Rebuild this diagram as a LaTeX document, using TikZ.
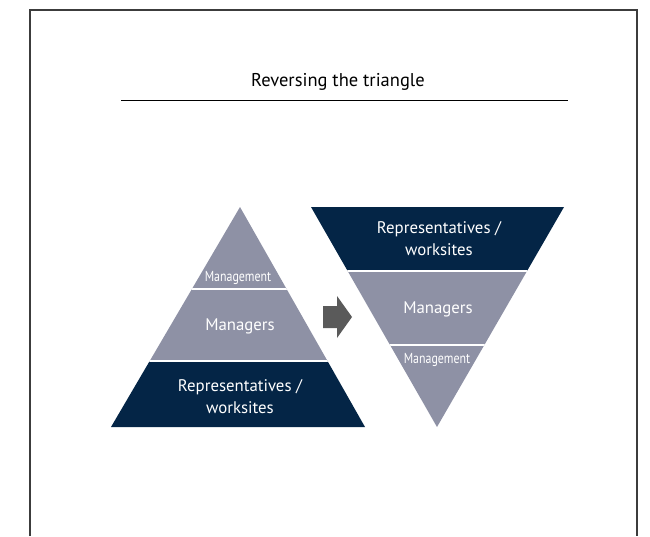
\documentclass[tikz,border=0pt]{standalone}
\usepackage{fontspec}
\setmainfont{PT Sans}
\begin{document}
\definecolor{navy}{RGB}{4,37,70}
\definecolor{slate}{RGB}{142,145,165}
\definecolor{arrowgray}{RGB}{90,90,90}
\definecolor{framegray}{RGB}{60,60,60}
\begin{tikzpicture}[x=1pt,y=-1pt,
  lbl/.style={text=white,font=\fontsize{16.8}{22}\selectfont,align=center,inner sep=0pt},
  smalllbl/.style={text=white,font=\fontsize{14.5}{16}\selectfont,xscale=0.82,inner sep=0pt},
  gap/.style={white,line width=2.2pt}]
\useasboundingbox (0,0) rectangle (650,536);
% page frame, open at the bottom
\draw[framegray,line width=1.2pt] (30,536) -- (30,10) -- (637,10) -- (637,536);
% heading
\node[font=\fontsize{18.5}{22}\selectfont,inner sep=0pt] (title) at (338,82) {Reversing the triangle};
\draw[line width=0.8pt] (121,100) -- (568,100);

% upright pyramid
\begin{scope}
  \clip (240,207) -- (365,427) -- (111,427) -- cycle;
  \fill[slate] (100,200) rectangle (380,361);
  \fill[navy] (100,361) rectangle (380,440);
  \draw[gap] (100,289) -- (380,289);
  \draw[gap] (100,361) -- (380,361);
\end{scope}
\node[smalllbl] (lmgmt) at (238,278) {Management};
\node[lbl] (lmgr) at (240,326) {Managers};
\node[lbl] (lrep) at (240,397) {Representatives /\\worksites};

% block arrow between the two
\fill[arrowgray] (323,306) -- (337,306) -- (337,296) -- (352,317) -- (337,338) -- (337,328) -- (323,328) -- cycle;

% inverted pyramid
\begin{scope}
  \clip (311,207) -- (564,207) -- (437,427) -- cycle;
  \fill[navy] (300,200) rectangle (580,271);
  \fill[slate] (300,271) rectangle (580,440);
  \draw[gap] (300,271) -- (580,271);
  \draw[gap] (300,345) -- (580,345);
\end{scope}
\node[lbl] (rrep) at (439,239) {Representatives /\\worksites};
\node[lbl] (rmgr) at (438,309) {Managers};
\node[smalllbl] (rmgmt) at (437,360) {Management};
\end{tikzpicture}
\end{document}
